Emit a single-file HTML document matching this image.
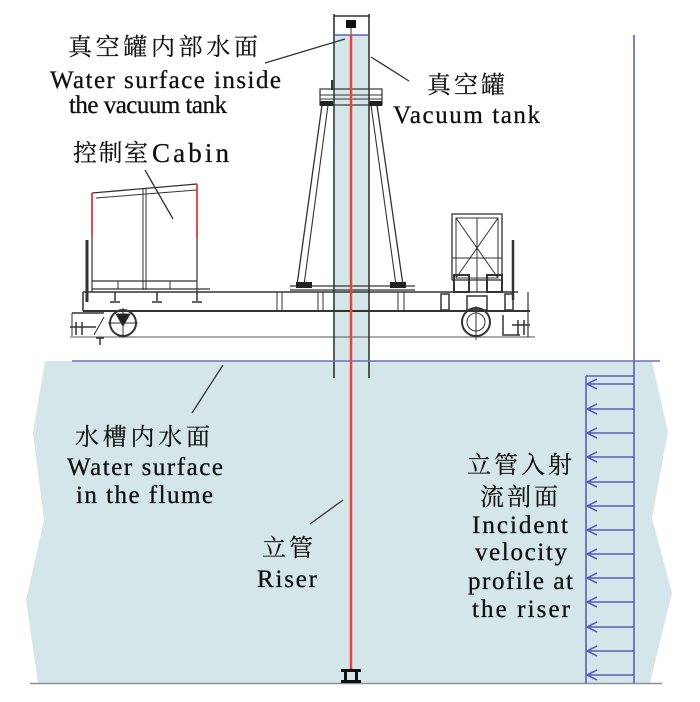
<!DOCTYPE html>
<html><head><meta charset="utf-8">
<style>
html,body{margin:0;padding:0;background:#fff;}
svg{display:block;}
.en{font-family:"Liberation Serif",serif;fill:#111;stroke:#111;stroke-width:0.3;}
.cn{font-family:"Liberation Serif","Noto Serif CJK SC",serif;fill:#111;stroke:#111;stroke-width:0.2;}
</style></head>
<body>
<svg width="700" height="702" viewBox="0 0 700 702" xmlns="http://www.w3.org/2000/svg">
<rect width="700" height="702" fill="#fff"/>
<!-- flume -->
<polygon points="45,361 652,361 668,432 652,518 672,593 650,683 38,683 26,600 44,520 33,433" fill="#d5e6ea"/>
<line x1="30" y1="683.5" x2="662" y2="683.5" stroke="#8a8f93" stroke-width="1.5"/>
<!-- tube fill -->
<rect x="335" y="35" width="33" height="326" fill="#d5e6ea"/>

<!-- ground line -->
<line x1="70" y1="337" x2="535" y2="337" stroke="#555" stroke-width="1"/>

<!-- carriage deck -->
<g stroke="#333" fill="none">
<line x1="83" y1="292" x2="518" y2="292" stroke-width="1.6"/>
<line x1="83" y1="311" x2="530" y2="311" stroke-width="2"/>
<line x1="83" y1="292" x2="83" y2="311" stroke-width="1.5"/>
<line x1="528" y1="292" x2="528" y2="337" stroke-width="1.2"/>
<line x1="277" y1="292" x2="277" y2="311"/><line x1="282" y1="292" x2="282" y2="311"/>
<line x1="318" y1="292" x2="318" y2="311"/><line x1="323" y1="292" x2="323" y2="311"/>
<line x1="398" y1="292" x2="398" y2="311"/><line x1="404" y1="292" x2="404" y2="311"/>
<!-- left wheel -->
<circle cx="123" cy="323" r="13" stroke-width="2"/>
<line x1="108" y1="323" x2="138" y2="323"/>
<line x1="123" y1="308" x2="123" y2="338"/>
<path d="M116,314 L130,314 L123,326 Z" fill="#222"/>
<!-- left bracket -->
<line x1="87" y1="240" x2="87" y2="302" stroke-width="3"/>
<line x1="72" y1="313" x2="104" y2="313" stroke-width="1.5"/>
<line x1="72" y1="313" x2="72" y2="336"/>
<path d="M70,327 L96,327 M76,322 L76,335 M82,322 L82,335" stroke-width="1.5"/>
<line x1="104" y1="317" x2="94" y2="335"/>
<path d="M96,338 L104,338 M100,338 L100,345" stroke-width="1.5"/>

<!-- cabin -->
<line x1="92" y1="193" x2="197" y2="184" stroke-width="1.3"/>
<line x1="96" y1="198" x2="197" y2="190" stroke-width="1"/>
<line x1="92" y1="237" x2="92" y2="292" stroke-width="1.2"/>
<line x1="197" y1="238" x2="197" y2="292" stroke-width="1.2"/>
<line x1="143" y1="189" x2="143" y2="290"/>
<line x1="146" y1="189" x2="146" y2="290"/>
<line x1="92" y1="281" x2="197" y2="281" stroke-width="1.2"/>
<line x1="92" y1="289" x2="210" y2="289" stroke-width="1.2"/>
<line x1="118" y1="281" x2="118" y2="289"/><line x1="170" y1="281" x2="170" y2="289"/>
<path d="M115,292 L115,301 M110,302 L120,302 M157,292 L157,301 M152,302 L162,302 M197,292 L197,301 M192,302 L202,302" stroke-width="1.5"/>
</g>
<line x1="92" y1="193" x2="92" y2="237" stroke="#e03a36" stroke-width="1.8"/>
<line x1="197" y1="184" x2="197" y2="238" stroke="#e03a36" stroke-width="1.8"/>

<!-- right box -->
<g stroke="#333" fill="none">
<rect x="452" y="214" width="50" height="66" stroke-width="1.3"/>
<rect x="456" y="218" width="42" height="60"/>
<line x1="456" y1="218" x2="498" y2="278"/>
<line x1="498" y1="218" x2="456" y2="278"/>
<line x1="477" y1="218" x2="477" y2="292"/>
<line x1="452" y1="258" x2="502" y2="258"/>
<rect x="454" y="275" width="15" height="17" stroke-width="2"/>
<rect x="487" y="275" width="15" height="17" stroke-width="2"/>
<line x1="513" y1="240" x2="513" y2="300" stroke-width="2.5"/>
<rect x="441" y="294" width="8" height="16" stroke-width="1.5"/>
<rect x="505" y="294" width="8" height="16" stroke-width="1.5"/>
<rect x="467" y="296" width="20" height="14" stroke-width="1.5"/>
<circle cx="476" cy="322" r="14" stroke-width="2"/>
<circle cx="476" cy="322" r="9"/>
<line x1="476" y1="306" x2="476" y2="340"/>
<path d="M503,315 L503,335 L520,335 M512,325 L530,325 M518,320 L518,335 M524,320 L524,335" stroke-width="1.5"/>
</g>

<!-- tower frame -->
<g stroke="#333" fill="none">
<line x1="322" y1="105" x2="297" y2="285" stroke-width="1.3"/>
<line x1="328" y1="105" x2="304" y2="285" stroke-width="1.1"/>
<line x1="377" y1="105" x2="403" y2="285" stroke-width="1.3"/>
<line x1="371" y1="105" x2="396" y2="285" stroke-width="1.1"/>
<rect x="320" y="89" width="62" height="16" stroke-width="1.2"/>
<line x1="320" y1="95" x2="382" y2="95"/>
<line x1="320" y1="99" x2="382" y2="99"/>
<line x1="332" y1="80" x2="332" y2="90" stroke-width="2"/>
<line x1="290" y1="286" x2="415" y2="286" stroke-width="1.2"/>
<line x1="290" y1="290" x2="415" y2="290" stroke-width="1.2"/>
</g>
<rect x="320" y="101" width="13" height="5" fill="#222"/>
<rect x="369" y="101" width="13" height="5" fill="#222"/>
<rect x="296" y="282" width="16" height="6" fill="#222"/>
<rect x="390" y="282" width="16" height="6" fill="#222"/>

<!-- tube lines -->
<g stroke="#333" fill="none">
<line x1="334" y1="14" x2="334" y2="378" stroke-width="1.6"/>
<line x1="369" y1="14" x2="369" y2="378" stroke-width="1.6"/>
<line x1="334" y1="16" x2="369" y2="16" stroke-width="1.6"/>
<line x1="351" y1="27" x2="351" y2="35"/>
</g>
<rect x="346" y="20" width="10" height="8" fill="#111"/>
<line x1="335" y1="35" x2="368" y2="35" stroke="#5a5fb5" stroke-width="1.5"/>

<!-- water surface -->
<line x1="72" y1="361" x2="660" y2="361" stroke="#6b70b8" stroke-width="1.5"/>

<!-- riser -->
<line x1="351" y1="35" x2="351" y2="670" stroke="#e8443c" stroke-width="2.5"/>
<g fill="#111">
<rect x="341" y="669" width="20" height="3"/>
<rect x="341" y="680" width="20" height="3"/>
<rect x="344" y="669" width="3" height="14"/>
<rect x="355" y="669" width="3" height="14"/>
</g>

<!-- velocity profile -->
<g stroke="#5a5fb5" stroke-width="1.6" fill="none">
<line x1="634" y1="35" x2="634" y2="683"/>
<line x1="586" y1="376" x2="586" y2="683"/>
<line x1="586" y1="376" x2="634" y2="376"/>
<path d="M587,384 H634 M597,379 L587,384 L597,389"/>
<path d="M587,409 H634 M597,404 L587,409 L597,414"/>
<path d="M587,433 H634 M597,428 L587,433 L597,438"/>
<path d="M587,457 H634 M597,452 L587,457 L597,462"/>
<path d="M587,482 H634 M597,477 L587,482 L597,487"/>
<path d="M587,506 H634 M597,501 L587,506 L597,511"/>
<path d="M587,530 H634 M597,525 L587,530 L597,535"/>
<path d="M587,554 H634 M597,549 L587,554 L597,559"/>
<path d="M587,578 H634 M597,573 L587,578 L597,583"/>
<path d="M587,602 H634 M597,597 L587,602 L597,607"/>
<path d="M587,627 H634 M597,622 L587,627 L597,632"/>
<path d="M587,651 H634 M597,646 L587,651 L597,656"/>
<path d="M587,675 H634 M597,670 L587,675 L597,680"/>
</g>

<!-- leader lines -->
<g stroke="#333" stroke-width="1.3">
<line x1="265" y1="63" x2="345" y2="39"/>
<line x1="371" y1="57" x2="409" y2="81"/>
<line x1="145" y1="170" x2="173" y2="219"/>
<line x1="223" y1="365" x2="192" y2="413"/>
<line x1="343" y1="500" x2="310" y2="524"/>
</g>

<!-- labels -->
<text class="cn" x="68" y="55" font-size="24" textLength="190" lengthAdjust="spacing">真空罐内部水面</text>
<text class="en" x="50" y="88" font-size="25" textLength="231" lengthAdjust="spacing">Water surface inside</text>
<text class="en" x="69" y="113" font-size="25" textLength="158" lengthAdjust="spacing">the vacuum tank</text>

<text class="cn" x="73" y="161" font-size="24" textLength="75" lengthAdjust="spacing">控制室</text>
<text class="en" x="152" y="162" font-size="27" textLength="77" lengthAdjust="spacing">Cabin</text>

<text class="cn" x="427" y="93" font-size="24" textLength="78" lengthAdjust="spacing">真空罐</text>
<text class="en" x="393" y="123" font-size="25" textLength="147" lengthAdjust="spacing">Vacuum tank</text>

<text class="cn" x="75" y="445" font-size="24" textLength="135" lengthAdjust="spacing">水槽内水面</text>
<text class="en" x="67" y="475" font-size="25" textLength="156" lengthAdjust="spacing">Water surface</text>
<text class="en" x="76" y="503" font-size="25" textLength="137" lengthAdjust="spacing">in the flume</text>

<text class="cn" x="262" y="556" font-size="24" textLength="51" lengthAdjust="spacing">立管</text>
<text class="en" x="257" y="587" font-size="25" textLength="60" lengthAdjust="spacing">Riser</text>

<text class="cn" x="467" y="473" font-size="24" textLength="105" lengthAdjust="spacing">立管入射</text>
<text class="cn" x="480" y="505" font-size="24" textLength="78" lengthAdjust="spacing">流剖面</text>
<text class="en" x="472" y="533" font-size="25" textLength="96" lengthAdjust="spacing">Incident</text>
<text class="en" x="475" y="560" font-size="25" textLength="92" lengthAdjust="spacing">velocity</text>
<text class="en" x="468" y="589" font-size="25" textLength="105" lengthAdjust="spacing">profile at</text>
<text class="en" x="472" y="617" font-size="25" textLength="98" lengthAdjust="spacing">the riser</text>
</svg>
</body></html>
